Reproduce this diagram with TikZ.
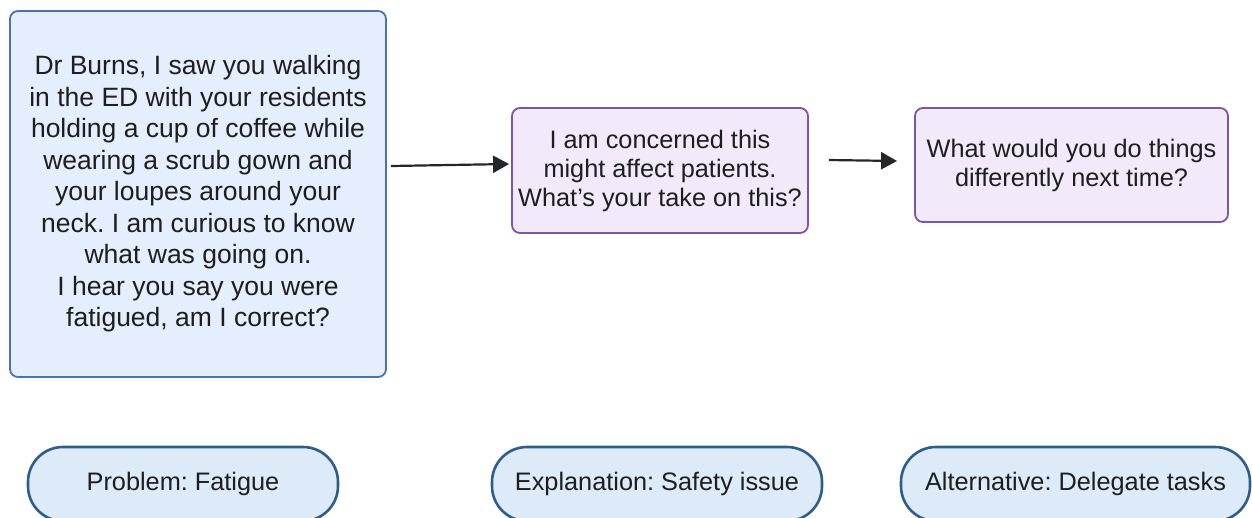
\documentclass[tikz,border=0pt]{standalone}
\usepackage{fontspec}
\setmainfont{Liberation Sans}
\usetikzlibrary{arrows.meta}
\definecolor{bfill}{HTML}{E4EEFC}
\definecolor{bdraw}{HTML}{4A70B6}
\definecolor{pfill}{HTML}{F2EAFB}
\definecolor{pdraw}{HTML}{7B55A6}
\definecolor{gfill}{HTML}{DDEAF8}
\definecolor{gdraw}{HTML}{2E5D8C}
\definecolor{txt}{HTML}{1E1E1E}
\frenchspacing
\tikzset{
  bluebox/.style={draw=bdraw, fill=bfill, line width=1.8pt, rounded corners=8pt, align=center, inner sep=0pt, text=txt, font=\fontsize{26.5}{31.5}\selectfont},
  purplebox/.style={draw=pdraw, fill=pfill, line width=1.8pt, rounded corners=8pt, align=center, inner sep=0pt, text=txt, font=\fontsize{25.3}{29}\selectfont},
  pill/.style={draw=gdraw, fill=gfill, line width=2.6pt, rounded corners=35pt, align=center, inner sep=0pt, minimum height=74pt, text=txt, font=\fontsize{25.3}{30}\selectfont},
  arr/.style={draw=black!85, line width=2.2pt, -{Triangle[length=16pt,width=17pt]}}
}
\begin{document}
\begin{tikzpicture}[x=1pt,y=-1pt]
\useasboundingbox (0,0) rectangle (1252,517);
\clip (0,0) rectangle (1252,517);
\node[bluebox, minimum width=376pt, minimum height=366pt] (n1) at (198,194)
  {Dr Burns, I saw you walking\\in the ED with your residents\\holding a cup of coffee while\\wearing a scrub gown and\\your loupes around your\\neck. I am curious to know\\what was going on.\\I hear you say you were\\fatigued, am I correct?};
\node[purplebox, minimum width=296pt, minimum height=125pt] (n2) at (660,170.5)
  {I am concerned this\\might affect patients.\\What’s your take on this?};
\node[purplebox, minimum width=313pt, minimum height=114pt] (n3) at (1071.5,165)
  {What would you do things\\differently next time?};
\node[pill, minimum width=310pt] (p1) at (183,484) {\raisebox{-5pt}{Problem: Fatigue}};
\node[pill, minimum width=330pt] (p2) at (657,484) {\raisebox{-5pt}{Explanation: Safety issue}};
\node[pill, minimum width=349pt] (p3) at (1075.5,484) {\raisebox{-5pt}{Alternative: Delegate tasks}};
\draw[arr] ([shift={(4,-28)}]n1.east) -- ([shift={(-2,-6.5)}]n2.west);
\draw[arr] ([shift={(20,-10.5)}]n2.east) -- ([shift={(-17,-4)}]n3.west);
\end{tikzpicture}
\end{document}
